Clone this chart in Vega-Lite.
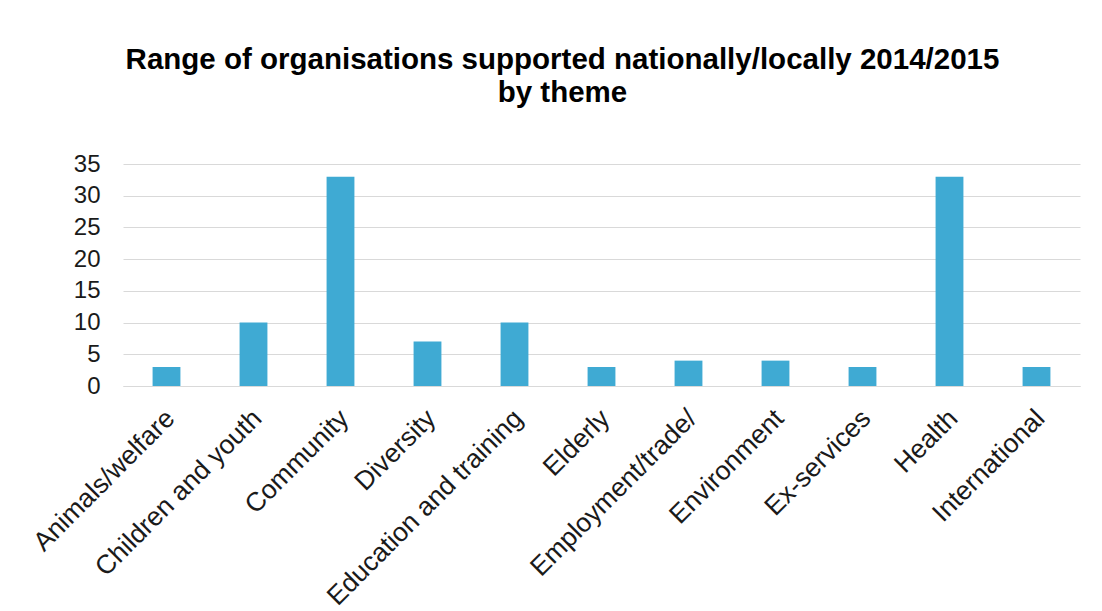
{
  "$schema": "https://vega.github.io/schema/vega-lite/v6.json",
  "width": 957,
  "height": 222,
  "autosize": {"type": "none"},
  "padding": {"left": 123, "top": 164, "right": 22, "bottom": 225},
  "background": "white",
  "title": {
    "text": ["Range of organisations supported nationally/locally 2014/2015", "by theme"],
    "font": "Liberation Sans",
    "fontSize": 29.5,
    "fontWeight": "bold",
    "color": "#000000",
    "anchor": "middle",
    "dx": -39,
    "offset": 44,
    "lineHeight": 33
  },
  "data": {
    "values": [
      {"theme": "Animals/welfare", "count": 3},
      {"theme": "Children and youth", "count": 10},
      {"theme": "Community", "count": 33},
      {"theme": "Diversity", "count": 7},
      {"theme": "Education and training", "count": 10},
      {"theme": "Elderly", "count": 3},
      {"theme": "Employment/trade/", "count": 4},
      {"theme": "Environment", "count": 4},
      {"theme": "Ex-services", "count": 3},
      {"theme": "Health", "count": 33},
      {"theme": "International", "count": 3}
    ]
  },
  "mark": {"type": "bar", "color": "#3FAAD3"},
  "encoding": {
    "x": {
      "field": "theme",
      "type": "nominal",
      "sort": null,
      "scale": {"paddingInner": 0.68, "paddingOuter": 0.34},
      "axis": {
        "title": null,
        "labelAngle": -45,
        "labelAlign": "right",
        "labelBaseline": "middle",
        "labelFont": "Liberation Sans",
        "labelFontSize": 26.5,
        "labelColor": "#1A1A1A",
        "labelPadding": 28,
        "labelOffset": 4,
        "ticks": false,
        "domainColor": "#D9D9D9",
        "domainWidth": 1,
        "labelLimit": 500,
        "labelOverlap": false
      }
    },
    "y": {
      "field": "count",
      "type": "quantitative",
      "scale": {"domain": [0, 35]},
      "axis": {
        "title": null,
        "values": [0, 5, 10, 15, 20, 25, 30, 35],
        "labelFont": "Liberation Sans",
        "labelFontSize": 24,
        "labelColor": "#1A1A1A",
        "labelPadding": 23,
        "ticks": false,
        "domain": false,
        "gridColor": "#D9D9D9",
        "gridWidth": 1
      }
    }
  },
  "config": {"view": {"stroke": null}}
}
